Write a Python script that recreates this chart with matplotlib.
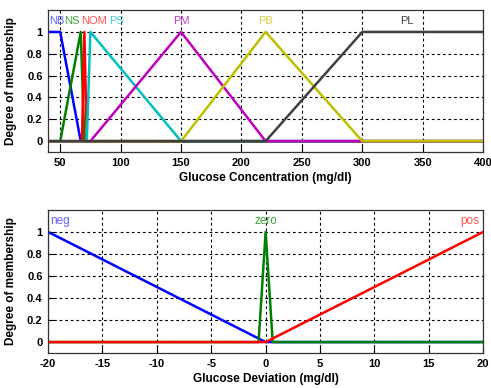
import matplotlib
matplotlib.use("Agg")
import matplotlib.pyplot as plt

plt.rcParams['font.family'] = ['Liberation Sans', 'DejaVu Sans']

# glucose concentration membership functions (vertices)
conc_names = ['NB', 'NS', 'NOM', 'PS', 'PM', 'PB', 'PL']
conc_x = [
    [40, 50, 67, 400],
    [40, 50, 67, 70, 400],
    [40, 68, 70, 72, 400],
    [40, 72, 75, 150, 400],
    [40, 75, 150, 220, 400],
    [40, 150, 220, 300, 400],
    [40, 220, 300, 400],
]
conc_y = [
    [1, 1, 0, 0],
    [0, 0, 1, 0, 0],
    [0, 0, 1, 0, 0],
    [0, 0, 1, 0, 0],
    [0, 0, 1, 0, 0],
    [0, 0, 1, 0, 0],
    [0, 0, 1, 1],
]
conc_label_x = [47, 60, 78, 97, 150, 220, 337]
conc_ticks = [50, 100, 150, 200, 250, 300, 350, 400]

# glucose deviation membership functions (vertices)
dev_names = ['neg', 'zero', 'pos']
dev_x = [
    [-20, 0, 20],
    [-20, -0.65, 0, 0.65, 20],
    [-20, 0, 20],
]
dev_y = [
    [1, 0, 0],
    [0, 0, 1, 0, 0],
    [0, 0, 1],
]
dev_label_x = [-18.9, 0, 18.8]
dev_ticks = [-20, -15, -10, -5, 0, 5, 10, 15, 20]

yticks = [0, 0.2, 0.4, 0.6, 0.8, 1]
ytick_labels = ['0', '0.2', '0.4', '0.6', '0.8', '1']

conc_colors = ['#0000ff', '#008000', '#ff0000', '#00bfbf', '#bf00bf', '#bfbf00', '#404040']
conc_label_colors = ['#6060ff', '#40a040', '#ff5050', '#40d0d0', '#c040d0', '#d0d040', '#404040']
dev_colors = ['#0000ff', '#008000', '#ff0000']
dev_label_colors = ['#6060ff', '#40a040', '#ff5050']

fig = plt.figure(figsize=(4.91, 3.88), dpi=100)
ax1 = fig.add_axes([0.098, 0.608, 0.886, 0.366])
ax2 = fig.add_axes([0.098, 0.090, 0.886, 0.369])


def style(ax, xlim, xticks, xlabel):
    ax.set_xlim(*xlim)
    ax.set_ylim(-0.1, 1.2)
    ax.set_xticks(xticks)
    ax.set_xticklabels([str(t) for t in xticks], fontsize=8, fontweight='bold')
    ax.set_yticks(yticks)
    ax.set_yticklabels(ytick_labels, fontsize=8, fontweight='bold')
    ax.tick_params(direction='in', length=4, width=0.8, pad=4)
    ax.grid(True, color='black', linestyle=(0, (2.5, 2.5)), linewidth=0.8)
    ax.set_axisbelow(True)
    for s in ax.spines.values():
        s.set_linewidth(0.9)
        s.set_color('#333333')
    ax.set_xlabel(xlabel, fontsize=8.5, fontweight='bold', labelpad=3)
    ax.set_ylabel('Degree of membership', fontsize=8.5, fontweight='bold', labelpad=7)


for xs, ys, c in zip(conc_x, conc_y, conc_colors):
    ax1.plot(xs, ys, color=c, linewidth=1.8)
for name, lx, c in zip(conc_names, conc_label_x, conc_label_colors):
    ax1.text(lx, 1.1, name, color=c, fontsize=8, ha='center', va='center')
style(ax1, (40, 400), conc_ticks, 'Glucose Concentration (mg/dl)')

for xs, ys, c in zip(dev_x, dev_y, dev_colors):
    ax2.plot(xs, ys, color=c, linewidth=1.8)
for name, lx, c in zip(dev_names, dev_label_x, dev_label_colors):
    ax2.text(lx, 1.1, name, color=c, fontsize=8.5, ha='center', va='center')
style(ax2, (-20, 20), dev_ticks, 'Glucose Deviation (mg/dl)')

fig.savefig('out.png', dpi=100)
